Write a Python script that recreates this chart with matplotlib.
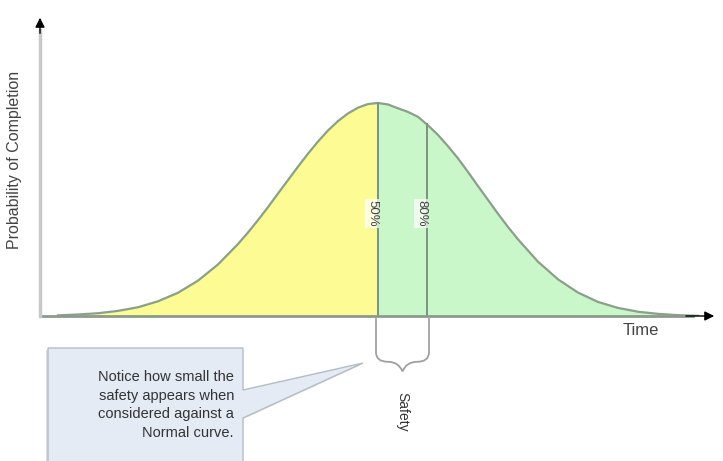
import numpy as np
import matplotlib
matplotlib.use("Agg")
import matplotlib.pyplot as plt
from matplotlib.path import Path
from matplotlib.patches import PathPatch, Polygon

plt.rcParams["font.family"] = ["Liberation Sans", "DejaVu Sans"]

# ========== DATA ==========
# time units (arbitrary), probability scaled so the peak is 1.0
time = [1, 2, 3, 4, 5, 6, 7, 8, 9, 10, 10.5, 11, 11.5, 12, 12.5, 13, 13.5,
        14, 14.5, 15, 15.5, 16, 16.5, 17, 17.5, 18, 18.5, 19, 19.5, 20, 20.5,
        21, 21.5, 22, 22.5, 23, 23.5, 24, 25, 26, 27, 28, 29, 30, 31, 32, 33]
prob = [0.003, 0.007, 0.013, 0.024, 0.041, 0.069, 0.109, 0.166, 0.242, 0.338,
        0.392, 0.450, 0.511, 0.575, 0.638, 0.701, 0.762, 0.819, 0.871, 0.915,
        0.951, 0.978, 0.995, 1.000, 0.993, 0.975, 0.958, 0.935, 0.895, 0.850,
        0.797, 0.740, 0.676, 0.610, 0.545, 0.480, 0.418, 0.360, 0.255, 0.172,
        0.110, 0.066, 0.038, 0.020, 0.010, 0.004, 0.001]
median_t = 17.0
p80_t = 19.45
markers = ["50%", "80%"]
callout_lines = ["Notice how small the", "safety appears when",
                 "considered against a", "Normal curve."]

time = np.array(time)
prob = np.array(prob)

fig = plt.figure(figsize=(7.23, 4.61), dpi=100)

# callout layer in pixel coordinates
ov = fig.add_axes([0, 0, 1, 1], zorder=0)
ov.set_xlim(0, 723)
ov.set_ylim(461, 0)
ov.axis("off")

ax = fig.add_axes([40 / 723, 145 / 461, 677 / 723, 301 / 461], zorder=1)
ax.patch.set_alpha(0)
ax.set_xlim(0.1, 33.95)
ax.set_ylim(0, 1.413)
for s in ax.spines.values():
    s.set_visible(False)
ax.set_xticks([])
ax.set_yticks([])

# curve fills
left = time <= median_t
right = time >= median_t
ax.fill_between(time[left], prob[left], color="#fdfb93", lw=0)
ax.fill_between(time[right], prob[right], color="#c9f7c9", lw=0)
ax.plot(time, prob, color="#8aa08a", lw=1.6)

# 50% / 80% lines
for t, lab in zip([median_t, p80_t], markers):
    top = np.interp(t, time, prob)
    ax.plot([t, t], [0, top], color="#7c937c", lw=1.4)
    ax.text(t - 0.3, 0.545, lab, rotation=-90, ha="center", va="top",
            fontsize=9.5, color="#444444",
            bbox=dict(boxstyle="square,pad=0.1", fc="white", ec="none", alpha=0.7))

# axes with arrows
ax.plot([0, 0.965], [0, 0], transform=ax.transAxes, color="#8c9a8c",
        lw=2, clip_on=False)
ax.annotate("", xy=(1.0, 0), xytext=(0.95, 0), xycoords="axes fraction",
            arrowprops=dict(arrowstyle="-|>", color="black", lw=1,
                            mutation_scale=14), annotation_clip=False)
ax.plot([0, 0], [0, 0.95], transform=ax.transAxes, color="#c8c8c8",
        lw=2.5, clip_on=False)
ax.annotate("", xy=(0, 1.0), xytext=(0, 0.93), xycoords="axes fraction",
            arrowprops=dict(arrowstyle="-|>", color="black", lw=1,
                            mutation_scale=14), annotation_clip=False)

ax.text(-0.037, 0.52, "Probability of Completion", transform=ax.transAxes,
        rotation=90, ha="center", va="center", fontsize=11.5, color="#444444")
ax.text(0.888, -0.022, "Time", transform=ax.transAxes, ha="center", va="top",
        fontsize=12, color="#444444")

# safety brace under the axis
xl, xr = median_t - 0.1, p80_t + 0.1
xc = (xl + xr) / 2
verts = [(xl, -0.01), (xl, -0.17), (xl, -0.215), (xl + 0.6, -0.215),
         (xc - 0.2, -0.215), (xc, -0.26), (xc + 0.2, -0.215), (xr - 0.6, -0.215),
         (xr, -0.215), (xr, -0.17), (xr, -0.01)]
codes = [Path.MOVETO, Path.LINETO, Path.CURVE3, Path.CURVE3,
         Path.CURVE3, Path.CURVE3, Path.CURVE3, Path.CURVE3,
         Path.CURVE3, Path.CURVE3, Path.LINETO]
ax.add_patch(PathPatch(Path(verts, codes), fc="none", ec="#a0a0a0",
                       lw=1.3, clip_on=False))
ax.text(xc, -0.355, "Safety", rotation=-90, ha="center", va="top",
        fontsize=10, color="#333333")

# callout box with pointer
shape = [(48, 348), (243, 348), (243, 390), (363, 363), (243, 418),
         (243, 475), (48, 475)]
shadow = [(x - 2, y + 2) for x, y in shape]
ov.add_patch(Polygon(shadow, closed=True, fc="#dcdee0", ec="none"))
ov.add_patch(Polygon(shape, closed=True, fc="#e4ebf4", ec="#b4bcc4", lw=1))
for i, line in enumerate(callout_lines):
    ov.text(234, 377 + i * 18.5, line, ha="right", va="center",
            fontsize=10.5, color="#333333")

fig.savefig("out.png", dpi=100)
